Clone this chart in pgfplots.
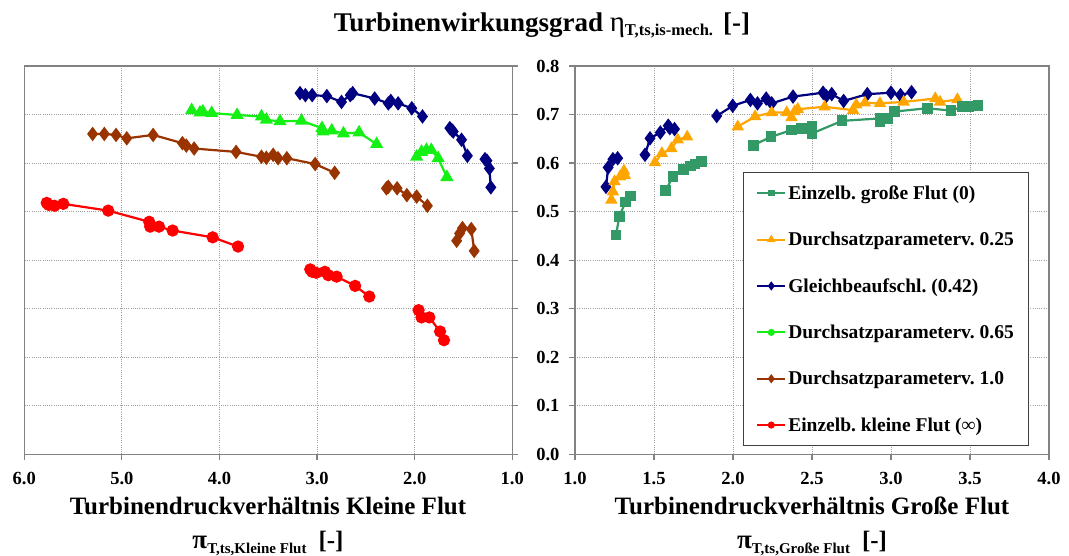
\documentclass[border=0pt]{standalone}
\usepackage{fontspec}
\setmainfont{Liberation Serif}
\usepackage{pgfplots}
\pgfplotsset{compat=1.18}
\definecolor{cnavy}{RGB}{0,0,128}
\definecolor{cgreen}{RGB}{20,240,20}
\definecolor{cbrown}{RGB}{153,51,0}
\definecolor{cred}{RGB}{255,0,0}
\definecolor{corange}{RGB}{255,165,0}
\definecolor{csea}{RGB}{51,153,102}
\definecolor{axgray}{RGB}{130,130,130}
\pgfplotsset{
  common/.style={
    scale only axis, height=388.3pt, ymin=0, ymax=0.8,
    ytick={0,0.1,0.2,0.3,0.4,0.5,0.6,0.7,0.8},
    grid=major,
    major grid style={draw=gray!75, dash pattern=on 1pt off 1.2pt, line width=0.8pt},
    axis line style={draw=axgray, line width=1.4pt},
    every tick/.style={draw=axgray, line width=1.2pt},
    tick align=outside, major tick length=6pt,
    ticklabel style={font=\fontsize{18.5}{20}\selectfont\bfseries},
    xticklabel style={yshift=-8pt},
    yticklabel style={xshift=-6pt},
    xtick pos=left,
  },
  pnavy/.style={color=cnavy, line width=2.2pt, mark=diamond*, mark size=5.5pt, forget plot},
  pgreen/.style={color=cgreen, line width=2.2pt, mark=triangle*, mark size=5.5pt, forget plot},
  pbrown/.style={color=cbrown, line width=2.2pt, mark=diamond*, mark size=5.5pt, forget plot},
  pred/.style={color=cred, line width=2.2pt, mark=*, mark size=5pt, forget plot},
  porange/.style={color=corange, line width=2.2pt, mark=triangle*, mark size=5pt, forget plot},
  psea/.style={color=csea, line width=2.2pt, mark=square*, mark size=4.3pt, forget plot},
}
\begin{document}
\begin{tikzpicture}[x=1pt,y=1pt]
\useasboundingbox (0,0) rectangle (1069,555);
\node[anchor=base] at (542,523) {\fontsize{27}{30}\selectfont\bfseries Turbinenwirkungsgrad \mdseries{\fontsize{29}{30}\selectfont η}\raisebox{-4pt}{\fontsize{16.5}{18}\selectfont\bfseries T,ts,is-mech.}\hspace{10pt}\bfseries [-]};
% left axis
\begin{axis}[common, at={(24.3pt,100.7pt)}, anchor=south west, width=488pt,
  x dir=reverse, xmin=1, xmax=6, xtick={1,2,3,4,5,6},
  xticklabels={1.0,2.0,3.0,4.0,5.0,6.0},
  ytick pos=right, yticklabels={}]
\addplot[pnavy] coordinates {(3.175,0.744) (3.12,0.740) (3.05,0.740) (2.90,0.738) (2.75,0.726) (2.66,0.740) (2.635,0.744) (2.41,0.733) (2.27,0.723) (2.245,0.728) (2.17,0.723) (2.03,0.713) (1.92,0.696)};
\addplot[pnavy] coordinates {(1.64,0.672) (1.62,0.668) (1.605,0.665) (1.52,0.648) (1.46,0.615)};
\addplot[pnavy] coordinates {(1.28,0.608) (1.26,0.605) (1.235,0.589) (1.22,0.550)};
\addplot[pgreen] coordinates {(4.285,0.709) (4.20,0.704) (4.17,0.706) (4.08,0.703) (3.82,0.699) (3.57,0.696) (3.52,0.689) (3.38,0.686) (3.16,0.687) (2.95,0.672) (2.94,0.665) (2.85,0.667) (2.73,0.661) (2.57,0.663) (2.39,0.639)};
\addplot[pgreen] coordinates {(1.98,0.613) (1.93,0.623) (1.88,0.627) (1.83,0.627) (1.76,0.610) (1.67,0.571)};
\addplot[pbrown] coordinates {(5.30,0.660) (5.18,0.660) (5.06,0.658) (4.95,0.651) (4.68,0.658) (4.38,0.641) (4.34,0.636) (4.26,0.630) (3.83,0.623) (3.57,0.613) (3.52,0.611) (3.45,0.617) (3.40,0.610) (3.31,0.610) (3.02,0.598) (2.82,0.580)};
\addplot[pbrown] coordinates {(2.29,0.548) (2.27,0.551) (2.18,0.548) (2.08,0.534) (1.98,0.531) (1.87,0.512)};
\addplot[pbrown] coordinates {(1.57,0.440) (1.54,0.455) (1.51,0.466) (1.42,0.464) (1.39,0.419)};
\addplot[pred] coordinates {(5.77,0.518) (5.75,0.514) (5.69,0.512) (5.60,0.516) (5.14,0.502) (4.72,0.479) (4.71,0.469) (4.62,0.469) (4.48,0.461) (4.07,0.447) (3.81,0.428)};
\addplot[pred] coordinates {(3.07,0.381) (3.05,0.376) (3.01,0.374) (2.92,0.376) (2.885,0.369) (2.80,0.366) (2.61,0.347) (2.465,0.325)};
\addplot[pred] coordinates {(1.96,0.297) (1.93,0.282) (1.85,0.282) (1.74,0.253) (1.70,0.235)};
\end{axis}
% right axis
\begin{axis}[common, at={(575pt,100.7pt)}, anchor=south west, width=474pt,
  xmin=1, xmax=4, xtick={1,1.5,2,2.5,3,3.5,4},
  xticklabels={1.0,1.5,2.0,2.5,3.0,3.5,4.0},
  ytick pos=left,
  yticklabels={0.0,0.1,0.2,0.3,0.4,0.5,0.6,0.7,0.8},
  legend image code/.code={\draw[#1, mark repeat=2, mark phase=2] plot coordinates {(0pt,0pt) (14pt,0pt) (28pt,0pt)};},
  legend cell align=left,
  legend style={at={(0.354,0.727)}, anchor=north west, draw=black!75, line width=1pt, fill=white,
    font=\fontsize{19.5}{22}\selectfont\bfseries, row sep=27.3pt, inner xsep=13pt, inner ysep=11pt,
    nodes={inner sep=2pt}}]
\addlegendimage{color=csea, line width=2pt, mark=square*, mark size=2.2pt}
\addlegendentry{Einzelb.\ große Flut (0)}
\addlegendimage{color=corange, line width=2pt, mark=triangle*, mark size=3pt}
\addlegendentry{Durchsatzparameterv.\ 0.25}
\addlegendimage{color=cnavy, line width=2pt, mark=diamond*, mark size=3pt}
\addlegendentry{Gleichbeaufschl.\ (0.42)}
\addlegendimage{color=cgreen, line width=2pt, mark=*, mark size=2.5pt}
\addlegendentry{Durchsatzparameterv.\ 0.65}
\addlegendimage{color=cbrown, line width=2pt, mark=diamond*, mark size=3pt}
\addlegendentry{Durchsatzparameterv.\ 1.0}
\addlegendimage{color=cred, line width=2pt, mark=*, mark size=2.5pt}
\addlegendentry{Einzelb.\ kleine Flut (∞)}
\addplot[pnavy] coordinates {(1.196,0.551) (1.21,0.591) (1.24,0.608) (1.27,0.610)};
\addplot[pnavy] coordinates {(1.443,0.617) (1.475,0.651) (1.54,0.663) (1.59,0.677) (1.60,0.672) (1.63,0.670)};
\addplot[pnavy] coordinates {(1.897,0.697) (1.998,0.718) (2.11,0.730) (2.155,0.723) (2.21,0.733) (2.245,0.723) (2.38,0.737) (2.57,0.745) (2.59,0.738) (2.625,0.742) (2.70,0.728) (2.85,0.742) (3.00,0.745) (3.06,0.740) (3.13,0.746)};
\addplot[porange] coordinates {(1.23,0.524) (1.24,0.541) (1.25,0.562) (1.285,0.572) (1.31,0.584) (1.315,0.575)};
\addplot[porange] coordinates {(1.506,0.601) (1.55,0.620) (1.61,0.630) (1.65,0.648) (1.71,0.654)};
\addplot[porange] coordinates {(2.03,0.675) (2.14,0.696) (2.245,0.704) (2.34,0.704) (2.37,0.694) (2.39,0.706) (2.41,0.711) (2.58,0.716) (2.76,0.709) (2.78,0.720) (2.835,0.724) (2.93,0.723) (3.08,0.726) (3.28,0.733) (3.31,0.726) (3.42,0.731)};
\addplot[psea] coordinates {(1.26,0.452) (1.28,0.490) (1.32,0.520) (1.35,0.532)};
\addplot[psea] coordinates {(1.574,0.543) (1.62,0.573) (1.685,0.586) (1.73,0.594) (1.76,0.598) (1.80,0.603)};
\addplot[psea] coordinates {(2.13,0.637) (2.24,0.654) (2.37,0.668) (2.435,0.672) (2.50,0.675) (2.50,0.661) (2.69,0.687) (2.93,0.692) (2.93,0.685) (2.98,0.692) (3.02,0.706) (3.23,0.713) (3.38,0.708) (3.45,0.716) (3.49,0.716) (3.55,0.718)};
\end{axis}
\node[anchor=base] at (268,41) {\fontsize{25}{28}\selectfont\bfseries Turbinendruckverhältnis Kleine Flut};
\node[anchor=base] at (268,7) {\bfseries{\fontsize{27}{30}\selectfont π}\raisebox{-5pt}{\fontsize{15}{18}\selectfont T,ts,Kleine Flut}\hspace{12pt}{\fontsize{25}{28}\selectfont [-]}};
\node[anchor=base] at (812,41) {\fontsize{25}{28}\selectfont\bfseries Turbinendruckverhältnis Große Flut};
\node[anchor=base] at (812,7) {\bfseries{\fontsize{27}{30}\selectfont π}\raisebox{-5pt}{\fontsize{15}{18}\selectfont T,ts,Große Flut}\hspace{12pt}{\fontsize{25}{28}\selectfont [-]}};
\end{tikzpicture}
\end{document}
